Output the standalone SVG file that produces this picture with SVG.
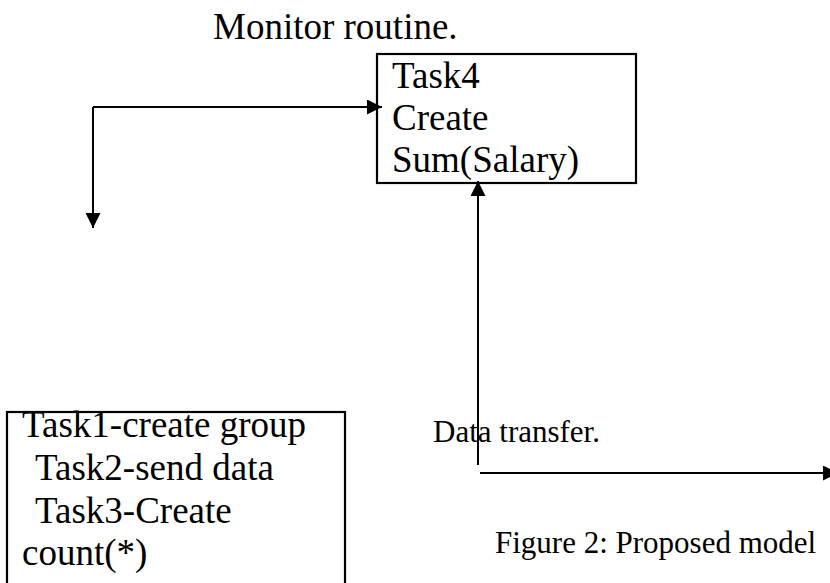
<svg xmlns="http://www.w3.org/2000/svg" width="830" height="583" viewBox="0 0 830 583">
<style>
  .box{fill:#fff;stroke:#000;stroke-width:2.2}
  .t{font-family:"Liberation Serif","Times New Roman",serif;font-size:37px;fill:#000}
  .s{font-family:"Liberation Serif","Times New Roman",serif;font-size:31px;fill:#000}
  .c{fill:none;stroke:#000;stroke-width:2}
</style>
<defs>
  <marker id="ah" markerUnits="userSpaceOnUse" markerWidth="16" markerHeight="16" refX="15" refY="7.5" orient="auto">
    <path d="M0,0 L15,7.5 L0,15 z" fill="#000"/>
  </marker>
</defs>
<rect width="830" height="583" fill="#fff"/>
<text class="t" x="213" y="39">Monitor routine.</text>
<g id="task4">
  <rect class="box" x="377" y="54" width="259" height="129"/>
  <text class="t" x="392" y="88">Task4</text>
  <text class="t" x="392" y="130">Create</text>
  <text class="t" x="392" y="172">Sum(Salary)</text>
</g>
<g id="tasks123">
  <rect class="box" x="7" y="412" width="338" height="190"/>
  <text class="t" x="22" y="437">Task1-create group</text>
  <text class="t" x="35" y="480">Task2-send data</text>
  <text class="t" x="35" y="523">Task3-Create</text>
  <text class="t" x="22" y="565">count(*)</text>
</g>
<g id="labels">
  <text class="s" x="433" y="442">Data transfer.</text>
  <text class="s" x="495" y="553">Figure 2: Proposed model</text>
</g>
<g id="connectors">
  <path class="c" d="M93,107 H382" marker-end="url(#ah)"/>
  <path class="c" d="M93,107 V228" marker-end="url(#ah)"/>
  <path class="c" d="M478,465 V181" marker-end="url(#ah)"/>
  <path class="c" d="M480,473 H838" marker-end="url(#ah)"/>
</g>
</svg>
